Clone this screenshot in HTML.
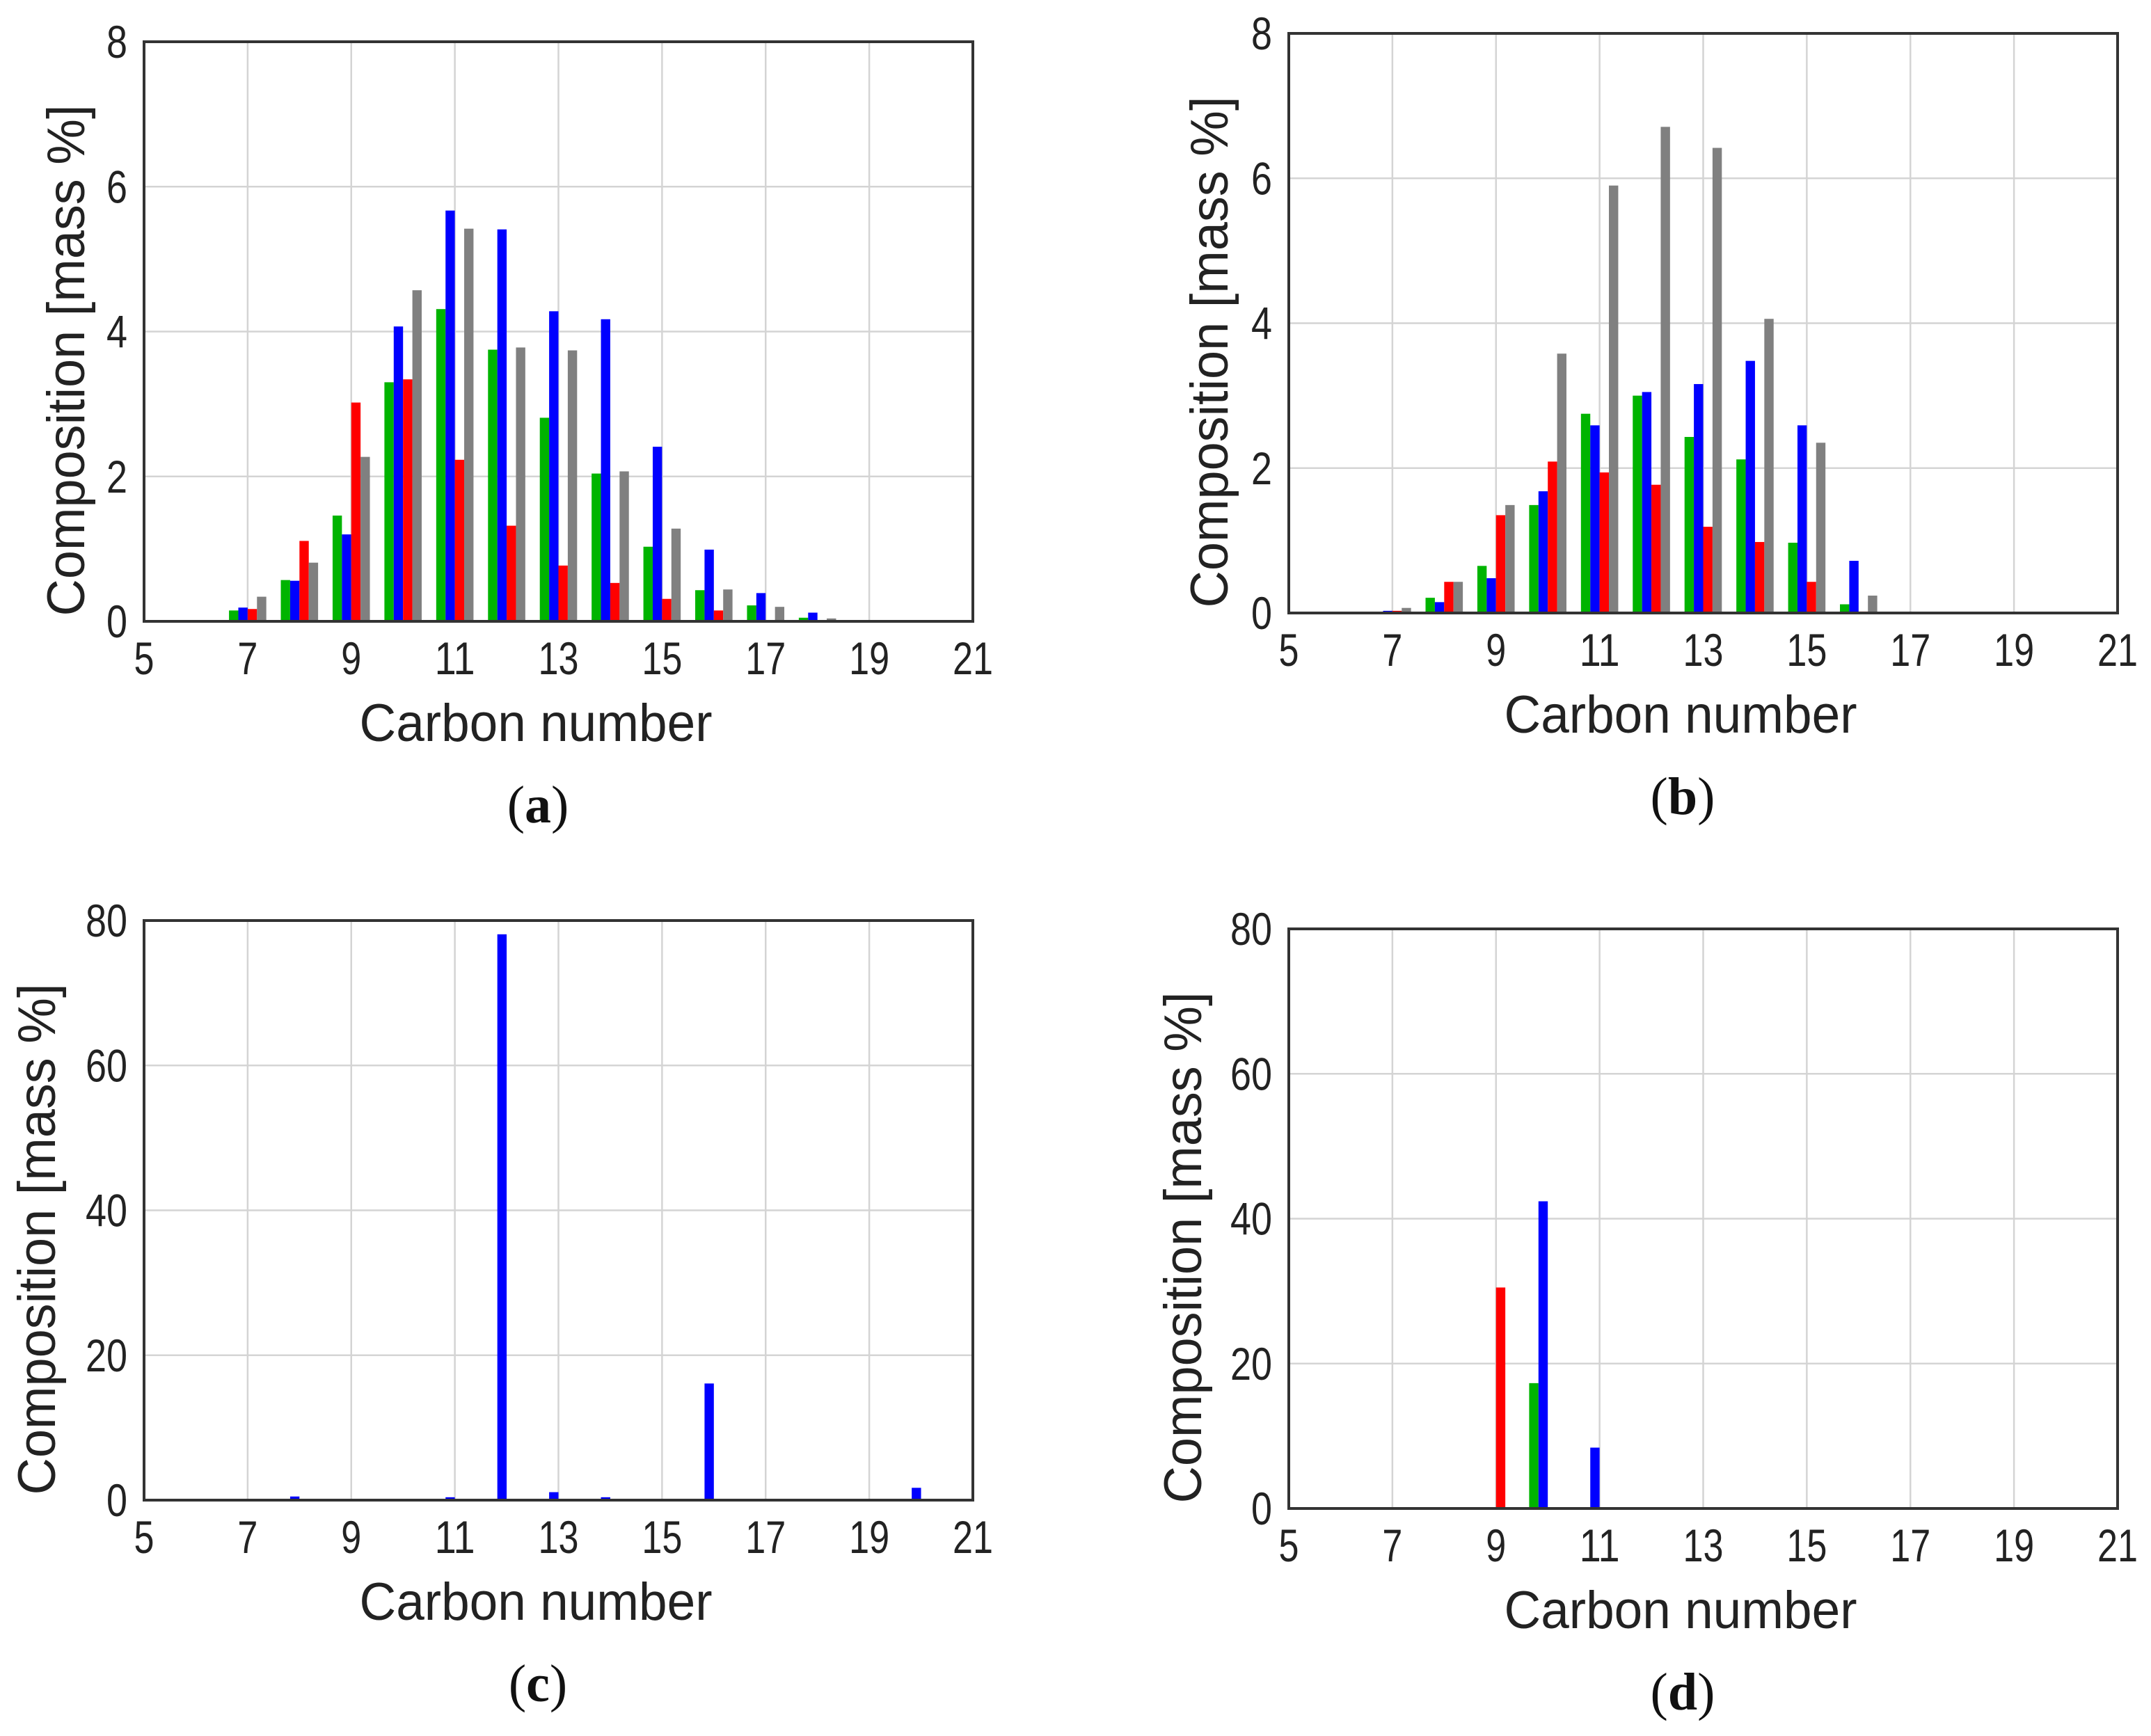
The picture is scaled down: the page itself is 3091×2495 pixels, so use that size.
<!DOCTYPE html>
<html><head><meta charset="utf-8"><style>
html,body{margin:0;padding:0;background:#fff;}
svg{display:block;}
</style></head><body>
<svg id="fig" xmlns="http://www.w3.org/2000/svg" width="3091" height="2495" viewBox="0 0 3091 2495"></svg>
<script>
// Shared axis data
const xTicks = [5, 7, 9, 11, 13, 15, 17, 19, 21];
const yTicksA = [0, 2, 4, 6, 8];
const yTicksC = [0, 20, 40, 60, 80];
const carbonNumbers = [7, 8, 9, 10, 11, 12, 13, 14, 15, 16, 17, 18];

// Panel (a)
const aGreen = [0.15, 0.57, 1.46, 3.30, 4.31, 3.75, 2.81, 2.04, 1.03, 0.43, 0.22, 0.05];
const aBlue  = [0.19, 0.56, 1.20, 4.07, 5.67, 5.41, 4.28, 4.17, 2.41, 0.99, 0.39, 0.12];
const aRed   = [0.17, 1.11, 3.02, 3.34, 2.23, 1.32, 0.77, 0.53, 0.31, 0.15, 0.0, 0.0];
const aGray  = [0.34, 0.81, 2.27, 4.57, 5.42, 3.78, 3.74, 2.07, 1.28, 0.44, 0.20, 0.04];

// Panel (b)
const bGreen = [0.01, 0.21, 0.65, 1.49, 2.75, 3.00, 2.43, 2.12, 0.97, 0.12, 0, 0];
const bBlue  = [0.03, 0.15, 0.48, 1.68, 2.59, 3.05, 3.16, 3.48, 2.59, 0.72, 0, 0];
const bRed   = [0.03, 0.43, 1.35, 2.09, 1.94, 1.77, 1.19, 0.98, 0.43, 0.02, 0, 0];
const bGray  = [0.07, 0.43, 1.49, 3.58, 5.90, 6.71, 6.42, 4.06, 2.35, 0.24, 0, 0];

// Panel (c)
const cCarbons = [8, 9, 10, 11, 12, 13, 14, 16, 20];
const cBlue    = [0.5, 0.1, 0.1, 0.4, 78.1, 1.1, 0.4, 16.1, 1.7];

// Panel (d)
const dCarbons = [9, 10, 11];
const dGreen   = [0, 17.3, 0];
const dBlue    = [0, 42.4, 8.4];
const dRed     = [30.5, 0, 0];

const NS = "http://www.w3.org/2000/svg";
const svg = document.getElementById('fig');
function mk(tag, attrs, parent) {
  const e = document.createElementNS(NS, tag);
  for (const k in attrs) e.setAttribute(k, attrs[k]);
  (parent || svg).appendChild(e);
  return e;
}
const COLORS = {green: '#00b400', blue: '#0000ff', red: '#ff0000', gray: '#808080'};
const OFFS = {green: -0.36, blue: -0.18, red: 0, gray: 0.18};
const BW = 0.18;

function panel(id, L, B, yMax, yTicks, label, titleOffset) {
  const W = 1191, H = 833, T = B - H, R = L + W;
  const g = mk('g', {});
  
  
  const xs = v => L + (v - 5) / 16 * W;
  const ys = v => B - v / yMax * H;
  xTicks.forEach(t => {
    const l = mk('line', {x1: xs(t), x2: xs(t), y1: T, y2: B, stroke: '#d4d4d4', 'stroke-width': 2.5}, g);
    
    
  });
  yTicks.forEach(t => {
    const l = mk('line', {x1: L, x2: R, y1: ys(t), y2: ys(t), stroke: '#d4d4d4', 'stroke-width': 2.5}, g);
    
    
  });
  xTicks.forEach(t => {
    const s = String(t);
    const tx = mk('text', {x: xs(t), y: B + 76, 'text-anchor': 'middle', 'font-size': 66, 'font-family': 'Liberation Sans, sans-serif', fill: '#222', textLength: 29 * s.length, lengthAdjust: 'spacingAndGlyphs'}, g);
    tx.textContent = s;
    
    
  });
  yTicks.forEach(t => {
    const s = String(t);
    const tx = mk('text', {x: L - 24, y: ys(t) + 23, 'text-anchor': 'end', 'font-size': 66, 'font-family': 'Liberation Sans, sans-serif', fill: '#222', textLength: 30 * s.length, lengthAdjust: 'spacingAndGlyphs'}, g);
    tx.textContent = s;
    
    
  });
  const xt = mk('text', {x: L + 563, y: B + 172, 'text-anchor': 'middle', 'font-size': 76, 'font-family': 'Liberation Sans, sans-serif', fill: '#222', textLength: 507, lengthAdjust: 'spacingAndGlyphs'}, g);
  xt.textContent = 'Carbon number';
  
  
  const cy = T + 458;
  const yt = mk('text', {x: 0, y: 0, transform: 'translate(' + (L - titleOffset) + ',' + cy + ') rotate(-90)', 'text-anchor': 'middle', 'font-size': 76, 'font-family': 'Liberation Sans, sans-serif', fill: '#222', textLength: 735, lengthAdjust: 'spacingAndGlyphs'}, g);
  yt.textContent = 'Composition [mass %]';
  
  
  const pl = mk('text', {x: L + 566, y: B + 289, 'text-anchor': 'middle', 'font-size': 76, 'font-family': 'Liberation Serif, serif', fill: '#111'}, g);
  pl.innerHTML = '(<tspan font-weight="bold">' + label + '</tspan>)';
  
  
  return {g, xs, ys, L, R, T, B};
}

function bars(p, cats, vals, color) {
  cats.forEach((c, i) => {
    const v = vals[i];
    if (!(v > 0)) return;
    const x0 = p.xs(c + OFFS[color]), x1 = p.xs(c + OFFS[color] + BW);
    const r = mk('rect', {x: x0, y: p.ys(v), width: x1 - x0, height: p.B - p.ys(v), fill: COLORS[color]}, p.g);
    
    
  });
}
function frame(p) {
  const f = mk('rect', {x: p.L, y: p.T, width: p.R - p.L, height: p.B - p.T, fill: 'none', stroke: '#333', 'stroke-width': 4}, p.g);
  
  
}

const pa = panel('a', 207, 893, 8, yTicksA, 'a', 86);
bars(pa, carbonNumbers, aGreen, 'green');
bars(pa, carbonNumbers, aBlue, 'blue');
bars(pa, carbonNumbers, aRed, 'red');
bars(pa, carbonNumbers, aGray, 'gray');
frame(pa);

const pb = panel('b', 1852, 881, 8, yTicksA, 'b', 88);
bars(pb, carbonNumbers, bGreen, 'green');
bars(pb, carbonNumbers, bBlue, 'blue');
bars(pb, carbonNumbers, bRed, 'red');
bars(pb, carbonNumbers, bGray, 'gray');
frame(pb);

const pc = panel('c', 207, 2156, 80, yTicksC, 'c', 128);
bars(pc, cCarbons, cBlue, 'blue');
frame(pc);

const pd = panel('d', 1852, 2168, 80, yTicksC, 'd', 126);
bars(pd, dCarbons, dGreen, 'green');
bars(pd, dCarbons, dBlue, 'blue');
bars(pd, dCarbons, dRed, 'red');
frame(pd);
</script>
</body></html>
